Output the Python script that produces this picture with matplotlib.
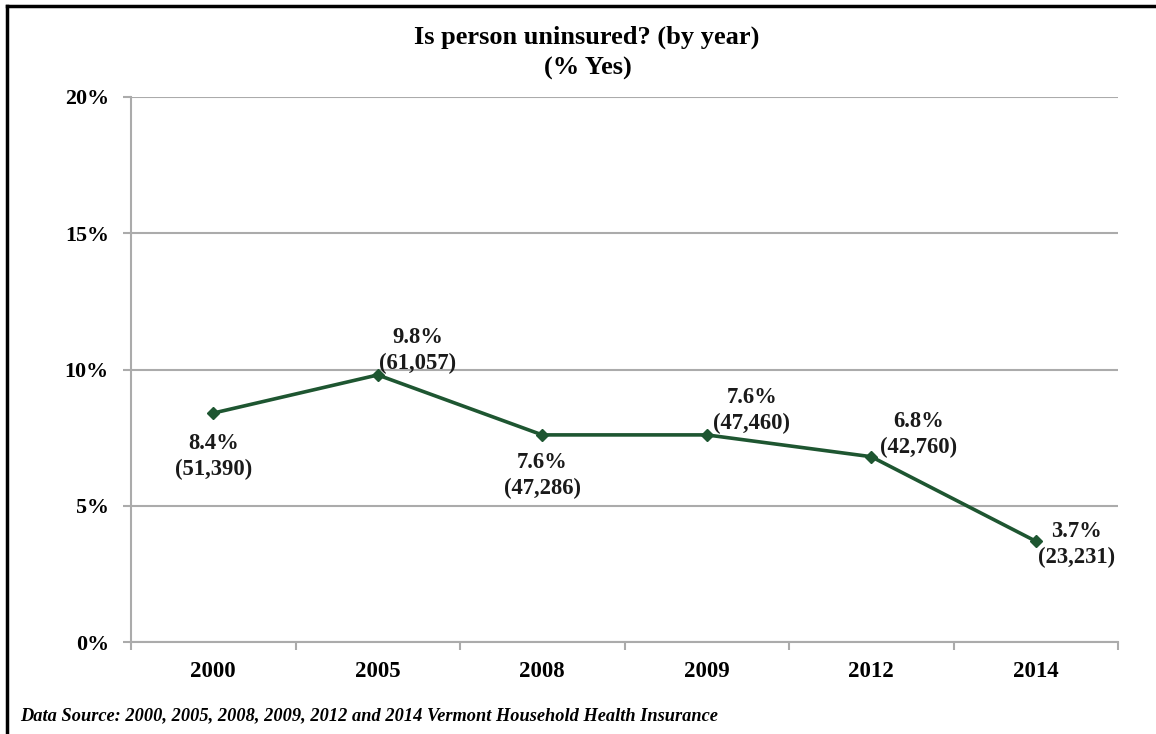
import matplotlib
matplotlib.use("Agg")
import matplotlib.pyplot as plt
from matplotlib.lines import Line2D
import numpy as np

years = ["2000", "2005", "2008", "2009", "2012", "2014"]
pct = [8.4, 9.8, 7.6, 7.6, 6.8, 3.7]
counts = ["51,390", "61,057", "47,286", "47,460", "42,760", "23,231"]
yticks = [0, 5, 10, 15, 20]
ytick_labels = ["0%", "5%", "10%", "15%", "20%"]

label_offsets = [(0, -43), (40, 24), (0, -41), (45, 24), (47, 22), (41, -3)]

plt.rcParams['font.family'] = ['Liberation Serif', 'DejaVu Serif']
plt.rcParams['font.weight'] = 'bold'

fig = plt.figure(figsize=(11.56, 7.34), dpi=100)
ax = fig.add_axes([131/1156, 1-642/734, (1118-131)/1156, (642-97)/734])

green = '#1E5631'
grid_c = '#ababab'
x = np.arange(len(years))
ax.plot(x, pct, color=green, lw=2.6, marker='D', ms=6, mfc=green, mec=green, zorder=3)

for xi, v, c, off in zip(x, pct, counts, label_offsets):
    ax.annotate(f"{v}%\n({c})", (xi, v), xytext=off, textcoords='offset pixels',
                ha='center', va='center', fontsize=16.3, fontweight='bold',
                linespacing=1.3, color='#1a1a1a')

ax.set_xlim(-0.5, len(years) - 0.5)
ax.set_ylim(0, 20)
ax.set_yticks(yticks)
ax.set_yticklabels(ytick_labels, fontsize=15.8, fontweight='bold')
ax.set_xticks(x)
ax.set_xticklabels(years, fontsize=16.5, fontweight='bold')
ax.set_xticks(np.arange(-0.5, len(years), 1), minor=True)
ax.tick_params(axis='x', which='major', length=0, pad=14)
ax.tick_params(axis='x', which='minor', length=6, color=grid_c, width=1.5, direction='out')
ax.tick_params(axis='y', length=6, color=grid_c, width=1.5, pad=10)

ax.yaxis.grid(True, color=grid_c, lw=1.5)
ax.set_axisbelow(True)
for s in ['top', 'right']:
    ax.spines[s].set_visible(False)
for s in ['left', 'bottom']:
    ax.spines[s].set_color(grid_c)
    ax.spines[s].set_linewidth(1.5)

fig.text(587/1156, 1-37/734, "Is person uninsured? (by year)", ha='center', va='center',
         fontsize=19, fontweight='bold')
fig.text(588/1156, 1-68/734, "(% Yes)", ha='center', va='center',
         fontsize=19, fontweight='bold')
fig.text(20/1156, 1-716/734, "Data Source: 2000, 2005, 2008, 2009, 2012 and 2014 Vermont Household Health Insurance",
         ha='left', va='center', fontsize=13.2, fontweight='bold', style='italic')

# frame
fig.add_artist(Line2D([7/1156, 7/1156], [0, 1-6/734], color='black', lw=2.5, transform=fig.transFigure))
fig.add_artist(Line2D([7/1156, 1], [1-6/734, 1-6/734], color='black', lw=2.5, transform=fig.transFigure))

fig.savefig("out.png", dpi=100)
